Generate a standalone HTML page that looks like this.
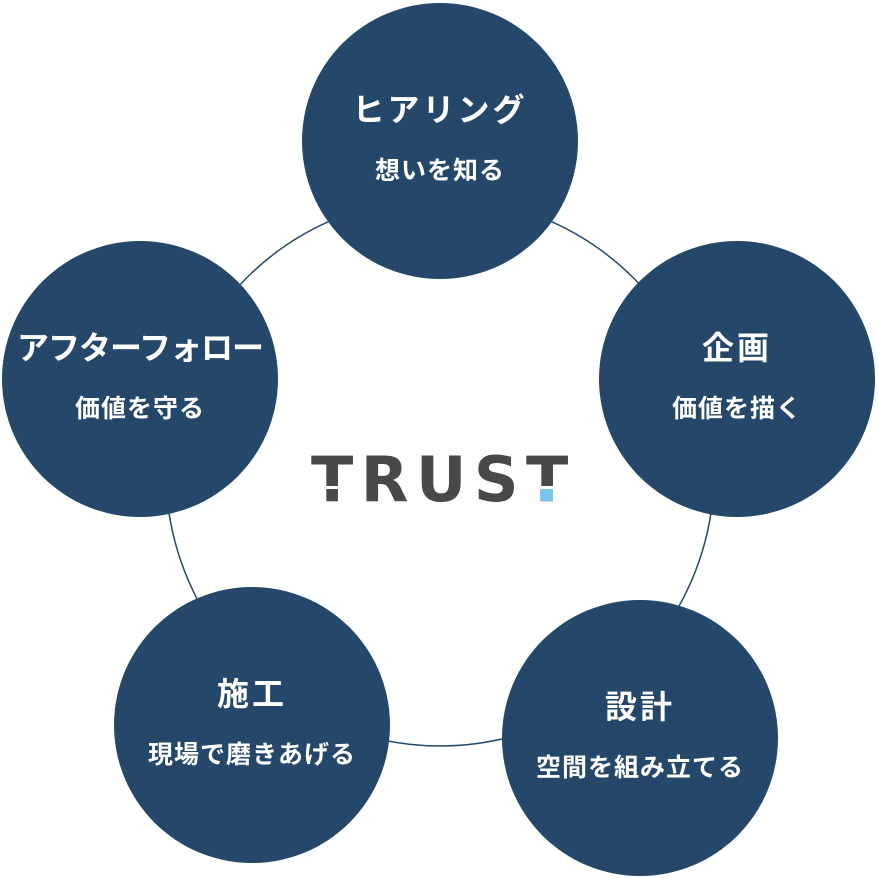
<!DOCTYPE html>
<html><head><meta charset="utf-8"><style>
html,body{margin:0;padding:0;background:#fff}
body{width:878px;height:878px;position:relative;overflow:hidden;font-family:"Liberation Sans","Noto Sans CJK JP",sans-serif}
.c{position:absolute;width:276px;height:276px;border-radius:50%;background:#25476a;color:#fff;font-weight:bold}
.t,.s{position:absolute;left:-40px;right:-40px;text-align:center;white-space:nowrap;line-height:1}
.t{top:91px;font-size:32px;letter-spacing:3px}
.s{top:156px;font-size:25px;letter-spacing:1px}
.logo{position:absolute;left:311px;top:449px;font-size:62px;font-weight:bold;color:#4a4848;letter-spacing:7.5px;line-height:1;font-family:"DejaVu Sans","Liberation Sans",sans-serif}
</style></head><body>
<svg width="878" height="878" style="position:absolute;left:0;top:0">
<circle cx="440" cy="472" r="274" fill="none" stroke="#25476a" stroke-width="1.5"/>
</svg>
<div class="c" style="left:302px;top:3px"><div class="t">ヒアリング</div><div class="s">想いを知る</div></div>
<div class="c" style="left:599px;top:241px"><div class="t">企画</div><div class="s">価値を描く</div></div>
<div class="c" style="left:502px;top:600px"><div class="t">設計</div><div class="s">空間を組み立てる</div></div>
<div class="c" style="left:114px;top:587px"><div class="t">施工</div><div class="s">現場で磨きあげる</div></div>
<div class="c" style="left:2px;top:241px"><div class="t" style="letter-spacing:-1px">アフターフォロー</div><div class="s">価値を守る</div></div>
<div class="logo">TRUST</div>
<div style="position:absolute;left:308px;top:486px;width:42px;height:3px;background:#fff"></div>
<div style="position:absolute;left:528px;top:486px;width:50px;height:3px;background:#fff"></div>
<div style="position:absolute;left:540px;top:489px;width:13px;height:12px;background:#7cc4ee"></div>
</body></html>
